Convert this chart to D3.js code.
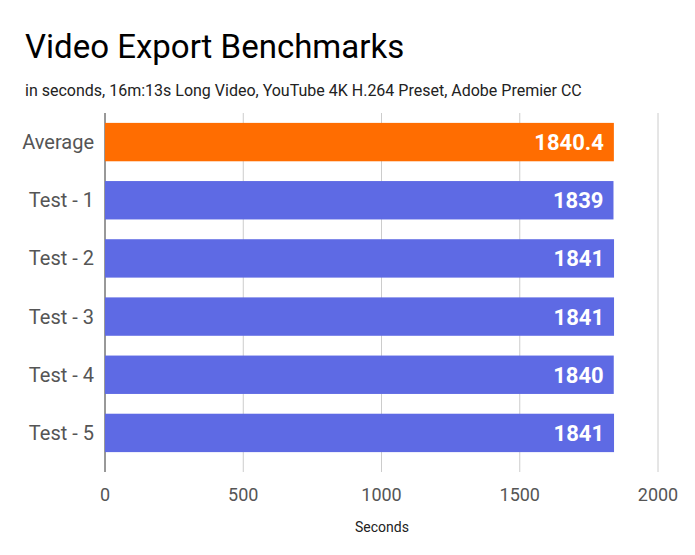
<!DOCTYPE html>
<html><head><meta charset="utf-8">
<script src="https://cdn.jsdelivr.net/npm/d3@7"></script>
<style>body{margin:0;background:#fff}</style></head>
<body><svg id="c" width="695" height="555"></svg>
<script>
const categories = ["Average","Test - 1","Test - 2","Test - 3","Test - 4","Test - 5"];
const values = [1840.4,1839,1841,1841,1840,1841];
const labels = ["1840.4","1839","1841","1841","1840","1841"];
const colors = ["#ff6d01","#5e6ae4","#5e6ae4","#5e6ae4","#5e6ae4","#5e6ae4"];
const ticks = [0,500,1000,1500,2000];

const svg = d3.select("#c");
const F = "Roboto, sans-serif";
const x = d3.scaleLinear().domain([0,2000]).range([105,658]);
const y = d3.scaleBand().domain(categories).range([113,462]).paddingInner(0.34).paddingOuter(0.17);

svg.append("text").attr("x",25).attr("y",58).attr("font-family",F).attr("font-size",33).attr("fill","#000").text("Video Export Benchmarks");
svg.append("text").attr("x",25).attr("y",96).attr("font-family",F).attr("font-size",16).attr("fill","#222").text("in seconds, 16m:13s Long Video, YouTube 4K H.264 Preset, Adobe Premier CC");

svg.selectAll("line.g").data(ticks.slice(1)).enter().append("line")
 .attr("x1",d=>x(d)).attr("x2",d=>x(d)).attr("y1",113).attr("y2",472).attr("stroke","#ccc");
svg.append("line").attr("x1",x(0)).attr("x2",x(0)).attr("y1",113).attr("y2",472).attr("stroke","#333");

svg.selectAll("rect").data(values).enter().append("rect")
 .attr("x",x(0)).attr("y",(d,i)=>y(categories[i])).attr("width",d=>x(d)-x(0)).attr("height",y.bandwidth())
 .attr("fill",(d,i)=>colors[i]);
svg.selectAll("text.v").data(values).enter().append("text")
 .attr("x",d=>x(d)-10).attr("y",(d,i)=>y(categories[i])+y.bandwidth()/2+8).attr("text-anchor","end")
 .attr("font-family",F).attr("font-weight","bold").attr("font-size",22).attr("fill","#fff").text((d,i)=>labels[i]);
svg.selectAll("text.c").data(categories).enter().append("text")
 .attr("x",94).attr("y",d=>y(d)+y.bandwidth()/2+7).attr("text-anchor","end")
 .attr("font-family",F).attr("font-size",20).attr("fill","#555").text(d=>d);
svg.selectAll("text.t").data(ticks).enter().append("text")
 .attr("x",d=>x(d)).attr("y",501).attr("text-anchor","middle")
 .attr("font-family",F).attr("font-size",18).attr("fill","#555").text(d=>d);
svg.append("text").attr("x",382).attr("y",532).attr("text-anchor","middle").attr("font-family",F).attr("font-size",14).attr("fill","#222").text("Seconds");
</script></body></html>
